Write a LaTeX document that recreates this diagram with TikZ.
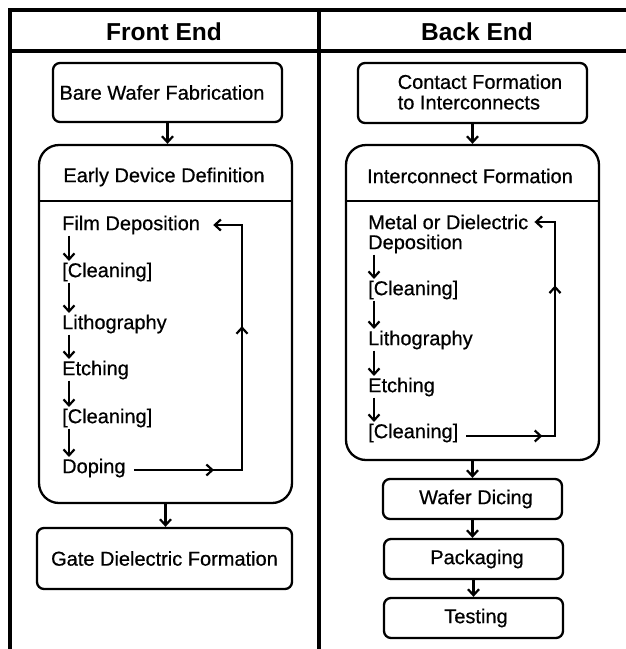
\documentclass[tikz,border=0pt]{standalone}
\usepackage{fontspec}
\setmainfont{Liberation Sans}[FakeBold=0.6]
\newfontfamily\hdrfont{Liberation Sans Bold}
\usetikzlibrary{arrows.meta,decorations.markings}
\tikzset{
  frame/.style={line width=3.2pt},
  box/.style={draw, line width=2.3pt, rounded corners=7pt, inner sep=0pt, font=\fontsize{20}{20.5}\selectfont},
  bigbox/.style={draw, line width=2.3pt, rounded corners=20pt, inner sep=0pt},
  txt/.style={font=\fontsize{20}{20.5}\selectfont, inner sep=0pt},
  item/.style={txt, anchor=west},
  hdr/.style={font=\fontsize{24.5}{26}\selectfont\hdrfont, inner sep=0pt},
  tip/.tip={Straight Barb[length=6pt,width=11pt]},
  arr/.style={line width=2.2pt, -tip},
  looppath/.style={line width=2.2pt, -tip, postaction={decorate}},
}
\begin{document}
\begin{tikzpicture}[x=1pt,y=-1pt]
\useasboundingbox (0,0) rectangle (626,649);
% frame
\draw[frame] (10,649) -- (10,10) -- (626,10);
\draw[frame] (10,51) -- (626,51);
\draw[frame] (319,10) -- (319,649);
\node[hdr] (hfe) at (164,32) {Front End};
\node[hdr] (hbe) at (477,32) {Back End};

% ---------- Front end ----------
\node[box, minimum width=229pt, minimum height=59pt] (bw) at (167.5,92.5) {};
\node[txt] (bwt) at (162,92.5) {Bare Wafer Fabrication};
\node[bigbox, minimum width=253pt, minimum height=358pt] (edd) at (165.5,324) {};
\coordinate (eddsep) at (0,201);
\draw[line width=2.3pt] (edd.west |- eddsep) -- (edd.east |- eddsep);
\node[txt] (eddt) at (164,177) {Early Device Definition};
\node[box, minimum width=255pt, minimum height=61pt] (gd) at (164.5,558.5) {Gate Dielectric Formation};

\node[item] (fd) at (62,225) {Film Deposition};
\node[item] (c1) at (62,272) {[Cleaning]};
\node[item] (li) at (62,324) {Lithography};
\node[item] (et) at (62,370) {Etching};
\node[item] (c2) at (62,418) {[Cleaning]};
\node[item] (dp) at (62,468) {Doping};

\draw[arr] (bw.south) -- (bw.south |- edd.north);
\draw[arr] (edd.south) -- (edd.south |- gd.north);
\foreach \a/\b in {fd/c1, c1/li, li/et, et/c2, c2/dp}
  \draw[arr, shorten <=1pt, shorten >=1.5pt] ([xshift=7pt]\a.south west) -- ([xshift=7pt]\b.north west);

\coordinate (lx) at (242,0);
\draw[looppath, decoration={markings,
    mark=at position 0.21 with {\arrow{tip}},
    mark=at position 0.66 with {\arrow{tip}}}]
  ([xshift=8pt,yshift=-2pt]dp.east) -- ([yshift=-2pt]dp.east -| lx) -- (fd.east -| lx) -- ([xshift=13pt]fd.east);

% ---------- Back end ----------
\node[box, minimum width=229pt, minimum height=60pt] (cf) at (472.5,93) {};
\node[txt, align=left] (cft) at (480,92) {Contact Formation\\to Interconnects};
\node[bigbox, minimum width=253pt, minimum height=315pt] (ifm) at (472.5,302.5) {};
\coordinate (ifsep) at (0,201);
\draw[line width=2.3pt] (ifm.west |- ifsep) -- (ifm.east |- ifsep);
\node[txt] (ift) at (470,176) {Interconnect Formation};

\node[item] (md) at (368,222) {Metal or Dielectric};
\node[item] (md2) at (368,244) {Deposition};
\node[item] (rc1) at (368,290) {[Cleaning]};
\node[item] (rli) at (368,340) {Lithography};
\node[item] (ret) at (368,387) {Etching};
\node[item] (rc2) at (368,433) {[Cleaning]};

\foreach \a/\b in {md2/rc1, rc1/rli, rli/ret, ret/rc2}
  \draw[arr, shorten <=1pt, shorten >=1.5pt] ([xshift=6pt]\a.south west) -- ([xshift=6pt]\b.north west);

\coordinate (rx) at (555,0);
\draw[looppath, decoration={markings,
    mark=at position 0.235 with {\arrow{tip}},
    mark=at position 0.74 with {\arrow{tip}}}]
  ([xshift=8pt,yshift=-3pt]rc2.east) -- ([yshift=-3pt]rc2.east -| rx) -- (md.east -| rx) -- ([xshift=6pt]md.east);

\node[box, minimum width=179pt, minimum height=40pt] (wd) at (472.5,499) {};
\node[txt] (wdt) at (476,499) {Wafer Dicing};
\node[box, minimum width=179pt, minimum height=40pt] (pk) at (473.5,559) {};
\node[txt] (pkt) at (477,559) {Packaging};
\node[box, minimum width=179pt, minimum height=40pt] (ts) at (473.5,618) {};
\node[txt] (tst) at (476,618) {Testing};

\draw[arr] (cf.south -| ifm.north) -- (ifm.north);
\draw[arr] (ifm.south) -- (ifm.south |- wd.north);
\draw[arr] (wd.south) -- (wd.south |- pk.north);
\draw[arr] (pk.south) -- (pk.south |- ts.north);
\end{tikzpicture}
\end{document}
